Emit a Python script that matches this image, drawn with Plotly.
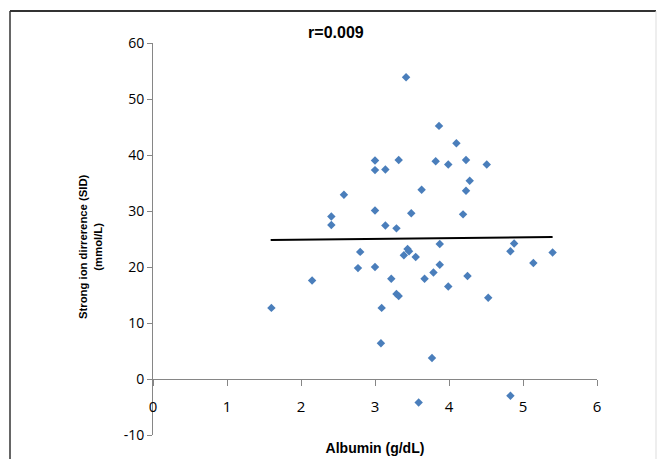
import plotly.graph_objects as go

# Data
albumin = [1.60, 2.15, 2.41, 2.41, 2.58, 2.77, 2.80, 3.00, 3.00, 3.00,
           3.00, 3.08, 3.09, 3.14, 3.14, 3.22, 3.29, 3.29, 3.32, 3.32,
           3.39, 3.42, 3.44, 3.46, 3.49, 3.55, 3.59, 3.63, 3.67, 3.77,
           3.79, 3.82, 3.865, 3.875, 3.875, 3.99, 3.99, 4.10, 4.19, 4.23,
           4.23, 4.25, 4.28, 4.51, 4.53, 4.83, 4.83, 4.88, 5.14, 5.40]
sid = [12.7, 17.6, 29.0, 27.5, 32.9, 19.8, 22.7, 39.0, 37.3, 30.1,
       20.0, 6.4, 12.7, 37.4, 27.4, 17.9, 26.9, 15.2, 14.8, 39.1,
       22.1, 53.9, 23.2, 22.8, 29.6, 21.8, -4.2, 33.8, 17.9, 3.75,
       19.0, 38.9, 45.2, 24.1, 20.4, 38.3, 16.5, 42.1, 29.4, 39.1,
       33.6, 18.4, 35.4, 38.3, 14.5, 22.8, -3.0, 24.2, 20.7, 22.6]
trend_x = [1.59, 5.40]
trend_y = [24.8, 25.35]

x_ticks = [0, 1, 2, 3, 4, 5, 6]
y_ticks = [-10, 0, 10, 20, 30, 40, 50, 60]
y_tick_labels = ["-10", "0", "10", "20", "30", "40", "50", "60"]

fig = go.Figure()
fig.add_trace(go.Scatter(x=albumin, y=sid, mode="markers",
                         marker=dict(symbol="diamond", size=6.5, color="#4a7ebb"),
                         showlegend=False))
fig.add_trace(go.Scatter(x=trend_x, y=trend_y, mode="lines",
                         line=dict(color="black", width=2), showlegend=False))

axis_color = "#868686"
fig.update_layout(
    width=657, height=459,
    margin=dict(l=153, r=60, t=43, b=24),
    paper_bgcolor="white", plot_bgcolor="white",
    title=dict(text="<b>r=0.009</b>", x=0.412, xref="paper", xanchor="center",
               y=1 - 32 / 459, yanchor="middle",
               font=dict(family="Liberation Sans, Arial", size=16, color="black")),
    xaxis=dict(range=[0, 6], tickvals=x_ticks, ticks="outside", ticklen=6,
               tickcolor=axis_color, showline=True, linecolor=axis_color, linewidth=1,
               showgrid=False, zeroline=False, anchor="free", position=10 / 70,
               ticklabelstandoff=8, automargin=False,
               tickfont=dict(family="Open Sans", size=15, color="black"),
               title=dict(text="<b>Albumin (g/dL)</b>", standoff=28,
                          font=dict(family="Liberation Sans, Arial", size=14, color="black"))),
    yaxis=dict(range=[-10, 60], tickvals=y_ticks, ticktext=y_tick_labels,
               ticks="outside", ticklen=5,
               tickcolor=axis_color, showline=True, linecolor=axis_color, linewidth=1,
               showgrid=False, zeroline=False, automargin=False,
               tickfont=dict(family="Open Sans", size=14, color="black")),
    annotations=[
        dict(text="<b>Strong ion dirrerence (SID)<br>(mmol/L)</b>", textangle=-90,
             xref="paper", yref="paper", x=(90 - 153) / 444, y=(435 - 247) / 392,
             xanchor="center", yanchor="middle", showarrow=False,
             font=dict(family="Liberation Sans, Arial", size=11.3, color="black")),
    ],
    shapes=[
        dict(type="line", xref="paper", yref="paper", x0=(10 - 153) / 444, x1=(10 - 153) / 444,
             y0=-0.2, y1=(435 - 11) / 392, line=dict(color="#333333", width=1.5)),
        dict(type="line", xref="paper", yref="paper", x0=(10 - 153) / 444, x1=(656 - 153) / 444,
             y0=(435 - 11) / 392, y1=(435 - 11) / 392, line=dict(color="#333333", width=2)),
        dict(type="line", xref="paper", yref="paper", x0=(656 - 153) / 444, x1=(656 - 153) / 444,
             y0=-0.2, y1=(435 - 11) / 392, line=dict(color="#dddddd", width=1)),
    ],
)

fig.write_html("out.html", config={"displayModeBar": False},
               post_script="document.body.style.margin='0';")
